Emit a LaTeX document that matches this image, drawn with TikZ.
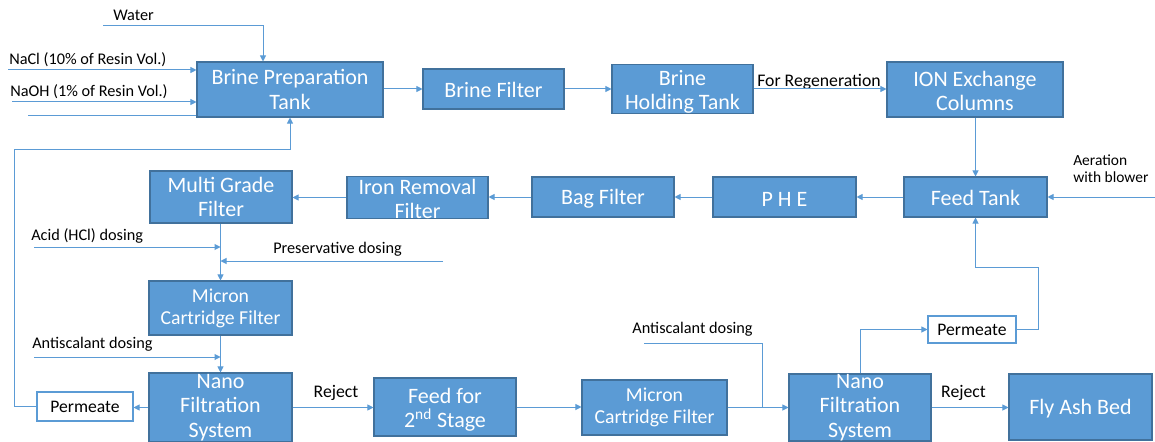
\documentclass[tikz,border=0pt]{standalone}
\usepackage{fontspec}
\setmainfont{Carlito}
\usetikzlibrary{arrows.meta}
\definecolor{boxblue}{HTML}{5B9BD5}
\definecolor{boxedge}{HTML}{41719C}
\definecolor{lineblue}{HTML}{5B9BD5}
\newcommand\hupa{\rule{0pt}{13.5pt}}
\newcommand\hupb{\rule{0pt}{15.5pt}}
\begin{document}
\begin{tikzpicture}[x=0.75pt,y=-0.75pt,
 bbox/.style={draw=boxedge, fill=boxblue, line width=0.8pt, text=white, align=center, inner sep=0pt, font=\fontsize{16.5}{18.5}\selectfont},
 sbox/.style={bbox, font=\fontsize{14.8}{16.5}\selectfont},
 wbox/.style={draw=lineblue, fill=white, line width=0.8pt, inner sep=0pt, font=\fontsize{13.2}{15}\selectfont},
 lab/.style={inner sep=0pt, font=\fontsize{12.2}{13}\selectfont},
 rlab/.style={inner sep=0pt, font=\fontsize{13.3}{15}\selectfont},
 conn/.style={draw=lineblue, line width=0.75pt},
 arr/.style={conn, -{Triangle[length=4.5pt,width=4.5pt]}},
]
\useasboundingbox (0,0) rectangle (1155,442);

% boxes
\node[bbox, minimum width=139.5pt, minimum height=41.25pt] (prep) at (290,89.5) {Brine Preparation\\Tank};
\node[bbox, minimum width=105.75pt, minimum height=30pt] (bfilt) at (493.5,89) {\hupa Brine Filter};
\node[bbox, minimum width=105.75pt, minimum height=36pt] (hold) at (682.5,89) {\hupb Brine\\Holding Tank};
\node[bbox, minimum width=132pt, minimum height=41.25pt] (ion) at (975,89.5) {\hupa ION Exchange\\Columns};
\node[bbox, minimum width=107.25pt, minimum height=30pt] (feed) at (975.5,197) {\hupa Feed Tank};
\node[bbox, minimum width=107.25pt, minimum height=30pt] (phe) at (784.5,197) {\hupa P H E};
\node[bbox, minimum width=106.5pt, minimum height=30pt] (bag) at (603,197) {\hupa Bag Filter};
\node[bbox, minimum width=105.75pt, minimum height=29.25pt] (iron) at (417.5,197.5) {\hupa Iron Removal\\Filter};
\node[bbox, minimum width=106.5pt, minimum height=39pt] (mgf) at (221,197) {Multi Grade\\Filter};
\node[sbox, minimum width=107.25pt, minimum height=40.5pt] (mcfa) at (220.5,308) {Micron\\Cartridge Filter};
\node[bbox, minimum width=107.25pt, minimum height=51.75pt] (nfa) at (220.5,407.5) {Nano\\Filtration\\System};
\node[wbox, minimum width=72pt, minimum height=21.75pt] (perma) at (85,406.5) {Permeate};
\node[bbox, minimum width=106.5pt, minimum height=43.5pt] (ftwo) at (445,407) {\hupb Feed for\\2\textsuperscript{nd} Stage};
\node[sbox, minimum width=108.75pt, minimum height=41.25pt] (mcfb) at (654.5,407.5) {Micron\\Cartridge Filter};
\node[bbox, minimum width=106.5pt, minimum height=50.25pt] (nfb) at (860,407.5) {Nano\\Filtration\\System};
\node[wbox, minimum width=66pt, minimum height=20.25pt] (permb) at (972,329.5) {Permeate};
\node[bbox, minimum width=107.25pt, minimum height=49.5pt] (ash) at (1080.5,407) {\hupa Fly Ash Bed};

% labels
\node[lab, anchor=west] (lwater) at (113,15) {Water};
\node[lab, anchor=west] (lnacl) at (9,60) {NaCl (10\% of Resin Vol.)};
\node[lab, anchor=west] (lnaoh) at (10,92) {NaOH (1\% of Resin Vol.)};
\node[rlab, anchor=west] (lregen) at (757,82) {For Regeneration};
\node[lab, anchor=west, align=left, font=\fontsize{11.6}{12.5}\selectfont] (laer) at (1073,169) {Aeration\\with blower};
\node[lab, anchor=west] (lacid) at (31,236) {Acid (HCl) dosing};
\node[lab, anchor=west] (lpres) at (273,249) {Preservative dosing};
\node[lab, anchor=west] (lantia) at (32,344) {Antiscalant dosing};
\node[lab] (lantib) at (692.5,329) {Antiscalant dosing};
\node[rlab] (lreja) at (336,393) {Reject};
\node[rlab] (lrejb) at (963.5,393) {Reject};

% coordinates
\coordinate (w0) at (103,26);
\coordinate (wx) at (263,0);
\coordinate (nacl) at (8,70);
\coordinate (naoh) at (12,102);
\coordinate (extra) at (28,116);
\coordinate (rc) at (14,150);
\coordinate (aer) at (1155,197);
\coordinate (acid) at (34,247);
\coordinate (pres) at (443,261);
\coordinate (antia) at (34,357);
\coordinate (antib) at (644,343);
\coordinate (jb) at (762,407.5);
\coordinate (pc) at (1038,267);

% connectors
\draw[arr] (w0) -| (prep.north -| wx);
\draw[arr] (nacl) -- (nacl -| prep.west);
\draw[arr] (naoh) -- (naoh -| prep.west);
\draw[conn] (extra) -- (extra -| prep.west);
\draw[arr] (perma.west) -| (rc) -| (prep.south);
\draw[arr] (prep.east |- bfilt.west) -- (bfilt.west);
\draw[arr] (bfilt.east) -- (hold.west);
\draw[arr] (hold.east) -- (hold.east -| ion.west);
\draw[arr] (ion.south -| feed.north) -- (feed.north);
\draw[arr] (aer) -- (feed.east);
\draw[arr] (feed.west) -- (phe.east);
\draw[arr] (phe.west) -- (bag.east);
\draw[arr] (bag.west) -- (bag.west -| iron.east);
\draw[arr] (iron.west) -- (iron.west -| mgf.east);
\draw[arr] (mgf.south -| mcfa.north) -- (mcfa.north);
\draw[arr] (acid) -- (acid -| mcfa.north);
\draw[arr] (pres) -- (pres -| mcfa.north);
\draw[arr] (mcfa.south) -- (nfa.north);
\draw[arr] (antia) -- (antia -| nfa.north);
\draw[arr] (nfa.west) -- (nfa.west -| perma.east);
\draw[arr] (nfa.east) -- (nfa.east -| ftwo.west);
\draw[arr] (ftwo.east) -- (ftwo.east -| mcfb.west);
\draw[arr] (mcfb.east) -- (nfb.west);
\draw[conn] (antib) -| (jb);
\draw[arr] (nfb.north) |- (permb.west);
\draw[arr] (permb.east) -| (pc) -| (feed.south);
\draw[arr] (nfb.east) -- (nfb.east -| ash.west);
\end{tikzpicture}
\end{document}
